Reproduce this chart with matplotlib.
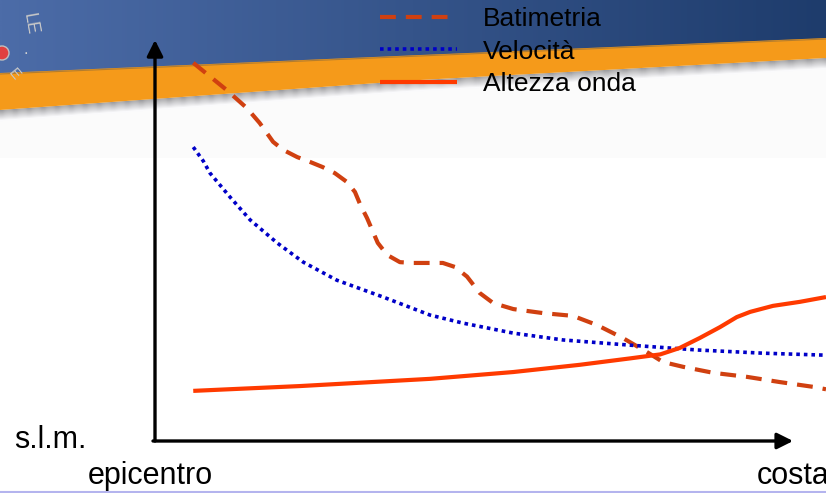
import numpy as np
import matplotlib
matplotlib.use("Agg")
import matplotlib.pyplot as plt
from matplotlib.patches import Polygon, Circle

plt.rcParams['font.family'] = ['Liberation Sans', 'DejaVu Sans']

# distance from epicentre to coast (0-100) and relative level (0-100)
bat_x = [5.7, 10.7, 13.7, 15.6, 17.6, 19.1, 21.2, 23.1, 25.0, 26.8, 28.6, 29.8,
         30.6, 31.6, 32.5, 33.2, 34.6, 36.5, 38.5, 40.5, 42.9, 44.7, 46.5, 48.4,
         50.4, 53.4, 57.8, 62.3, 65.9, 69.7, 73.3, 75.7, 78.7, 83.2, 88.2, 93.1,
         98.1, 100.0]
bat_y = [94.3, 87.5, 83.0, 79.3, 74.6, 72.6, 70.8, 69.6, 68.3, 66.8, 64.6, 62.1,
         58.9, 55.6, 52.1, 49.4, 46.4, 44.6, 44.4, 44.4, 44.4, 43.4, 41.0, 36.9,
         34.4, 32.9, 31.9, 31.2, 28.9, 25.7, 22.2, 19.7, 18.5, 17.0, 16.0, 14.7,
         13.5, 12.9]

vel_x = [5.7, 7.2, 8.2, 11.2, 14.2, 18.2, 22.1, 27.1, 34.0, 41.0, 45.9, 53.4,
         60.8, 70.8, 80.8, 90.6, 100.0]
vel_y = [73.3, 69.8, 66.8, 60.8, 55.1, 49.4, 44.6, 40.1, 35.9, 31.4, 29.4, 26.9,
         25.2, 23.9, 22.7, 21.9, 21.4]

alt_x = [5.7, 21.6, 41.0, 53.4, 63.3, 70.8, 75.3, 78.2, 81.2, 84.2, 86.7, 88.7,
         92.1, 96.1, 100.0]
alt_y = [12.5, 13.7, 15.5, 17.2, 19.0, 20.6, 21.6, 23.2, 25.7, 28.4, 30.9, 32.2,
         33.7, 34.7, 35.9]

series_labels = ['Batimetria', 'Velocità', 'Altezza onda']

W, H = 826, 493
fig = plt.figure(figsize=(W / 100, H / 100), dpi=100)

# --- slide background (pixel coordinates) ---
bg = fig.add_axes([0, 0, 1, 1], zorder=0)
bg.set_xlim(0, W)
bg.set_ylim(H, 0)
bg.axis('off')

orange_top = [(0, 73), (420, 55), (826, 38)]
orange_bot = [(826, 58), (420, 80), (0, 110)]

# faint grey band under the banner
bg.add_patch(Polygon([(0, 100), (826, 50), (826, 158), (0, 158)],
                     closed=True, facecolor='#fbfbfb', edgecolor='none'))

# blue banner with a horizontal gradient
blue_poly = Polygon([(0, 0), (826, 0), (826, 42), (0, 77)], closed=True,
                    facecolor='none', edgecolor='none')
bg.add_patch(blue_poly)
left_c = np.array([76, 108, 168]) / 255
right_c = np.array([30, 60, 108]) / 255
t = np.linspace(0, 1, 256)
grad = (left_c[None, :] * (1 - t[:, None]) + right_c[None, :] * t[:, None])[None, :, :]
im = bg.imshow(grad, extent=(0, 826, 120, 0), aspect='auto', interpolation='bilinear')
im.set_clip_path(blue_poly)

# soft shadow below the orange stripe
xb = np.array([0, 420, 826])
yb = np.array([110, 80, 58])
n_steps = 11
for i in range(n_steps):
    g = 0.62 + 0.36 * (i / (n_steps - 1))
    bg.add_patch(Polygon(list(zip(xb, yb + i)) + list(zip(xb[::-1], yb[::-1] + i + 1.2)),
                         closed=True, facecolor=(g, g, min(g + 0.01, 1)), edgecolor='none'))

bg.add_patch(Polygon(orange_top + orange_bot, closed=True,
                     facecolor='#f59a1a', edgecolor='none'))
bg.plot([0, 420, 826], [74, 56, 39], color='#8a6a3a', lw=0.8, alpha=0.6)

# logo fragment at the top left
bg.add_patch(Circle((2, 53), 7, facecolor='#e04040', edgecolor='#c0c0c0', lw=1))
bg.text(30, 24, 'LE', rotation=-80, color='#c8c8c8', fontsize=13, ha='center', va='center')
bg.text(26, 50, '.', color='#d0d0d0', fontsize=12, ha='center', va='center')
bg.text(14, 74, 'E', rotation=-50, color='#c8c8c8', fontsize=11, ha='center', va='center')

# thin line along the bottom edge
bg.plot([0, 826], [491.5, 491.5], color='#b4b4ee', lw=1.5)

# --- chart ---
x0, y0, x1, y1 = 155, 441, 826, 40
ax = fig.add_axes([x0 / W, (H - y0) / H, (x1 - x0) / W, (y0 - y1) / H], zorder=2)
ax.set_xlim(0, 100)
ax.set_ylim(0, 100)
ax.patch.set_alpha(0)
ax.axis('off')

l1, = ax.plot(bat_x, bat_y, color='#d04010', lw=3, linestyle=(0, (3.8, 2.4)),
              solid_joinstyle='round', clip_on=False)
l2, = ax.plot(vel_x, vel_y, color='#0000c8', lw=2.6, linestyle=(0, (1, 1.1)),
              dash_capstyle='butt', clip_on=False)
l3, = ax.plot(alt_x, alt_y, color='#ff3a00', lw=3, solid_capstyle='butt',
              solid_joinstyle='round', clip_on=False)

# axis arrows
arrow = dict(arrowstyle='-|>', lw=2.4, color='black', mutation_scale=24,
             shrinkA=0, shrinkB=0)
ax.annotate('', xy=(0, 100), xytext=(0, 0), arrowprops=arrow, annotation_clip=False)
ax.annotate('', xy=(95.1, 0), xytext=(-0.3, 0), arrowprops=arrow, annotation_clip=False)

fs = 22
bg.text(14, 440, 's.l.m.', fontsize=fs, va='center', ha='left')
bg.text(88, 476, 'epicentro', fontsize=fs, va='center', ha='left')
bg.text(757, 476, 'costa', fontsize=fs, va='center', ha='left')

leg = fig.legend([l1, l2, l3], series_labels, loc='upper left',
                 bbox_to_anchor=(380 / W, 1 - 7 / H), bbox_transform=fig.transFigure,
                 frameon=False, fontsize=19, handlelength=2.9, handletextpad=1.0,
                 labelspacing=0.33, borderpad=0, borderaxespad=0)

fig.savefig('out.png', dpi=100)
